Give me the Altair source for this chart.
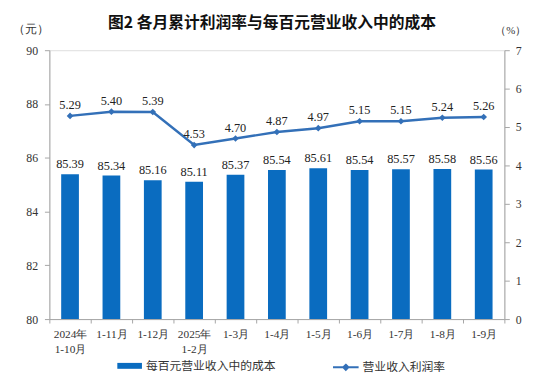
import altair as alt
import pandas as pd

categories = ["2024年\n1-10月", "1-11月", "1-12月", "2025年\n1-2月", "1-3月", "1-4月",
              "1-5月", "1-6月", "1-7月", "1-8月", "1-9月"]
cost = [85.39, 85.34, 85.16, 85.11, 85.37, 85.54, 85.61, 85.54, 85.57, 85.58, 85.56]
margin = [5.29, 5.40, 5.39, 4.53, 4.70, 4.87, 4.97, 5.15, 5.15, 5.24, 5.26]

df = pd.DataFrame({
    "cat": categories,
    "cost": cost,
    "margin": margin,
    "s1": "每百元营业收入中的成本",
    "s2": "营业收入利润率",
})

NUM_FONT = "'Liberation Serif', 'Times New Roman', serif"
CJK_FONT = "Noto Sans CJK SC"
BAR_C = "#0a6cc0"
LINE_C = "#3370b8"
GRAY = "#a6a6a6"

x = alt.X("cat:N", sort=categories, title=None,
          scale=alt.Scale(paddingInner=0, paddingOuter=0),
          axis=alt.Axis(labelAngle=0, labelExpr="split(datum.label, '\\n')",
                        tickBand="extent", tickSize=4, labelPadding=6,
                        labelFont=NUM_FONT, labelFontSize=11.5, labelColor="#333333",
                        domainColor=GRAY, tickColor=GRAY, labelLineHeight=15))

yl = alt.Scale(domain=[80, 90], zero=False, nice=False)
yr = alt.Scale(domain=[0, 7], nice=False)

left_axis = alt.Axis(values=[80, 82, 84, 86, 88, 90], title="（元）", titleAngle=0,
                     titleX=-19, titleY=-15, titleAlign="center", titleFont=NUM_FONT,
                     titleFontWeight="normal", titleFontSize=12, titleColor="#333333",
                     labelFont=NUM_FONT, labelFontSize=12, labelColor="#333333",
                     tickSize=5, labelPadding=7, domainColor=GRAY, tickColor=GRAY,
                     grid=False)
right_axis = alt.Axis(values=[0, 1, 2, 3, 4, 5, 6, 7], orient="right", title="（%）",
                      titleAngle=0, titleX=6, titleY=-15, titleAlign="center",
                      titleFont=NUM_FONT, titleFontWeight="normal", titleFontSize=11,
                      titleColor="#333333", labelFont=NUM_FONT, labelFontSize=12,
                      labelColor="#333333", tickSize=5, labelPadding=6,
                      domainColor=GRAY, tickColor=GRAY, grid=False)

bars = alt.Chart(df).mark_bar(size=18).encode(
    x=x,
    y=alt.Y("cost:Q", scale=yl, axis=left_axis),
    y2=alt.datum(80),
    color=alt.Color("s1:N", scale=alt.Scale(range=[BAR_C]),
                    legend=alt.Legend(title=None, orient="none", legendX=69, legendY=308,
                                      symbolType="M-1,-0.24L1,-0.24L1,0.24L-1,0.24Z",
                                      symbolSize=625, symbolStrokeWidth=0,
                                      labelFont=CJK_FONT, labelFontSize=12, labelColor="#333333",
                                      labelOffset=4)),
)

bar_text = alt.Chart(df).mark_text(dy=-10, font=NUM_FONT, fontSize=12.5, color="#222222").encode(
    x=alt.X("cat:N", sort=categories),
    y=alt.Y("cost:Q", scale=yl, axis=left_axis),
    text=alt.Text("cost:Q", format=".2f"),
)

left = alt.layer(bars, bar_text)

line = alt.Chart(df).mark_line(strokeWidth=2.5).encode(
    x=alt.X("cat:N", sort=categories),
    y=alt.Y("margin:Q", scale=yr, axis=right_axis),
    stroke=alt.Stroke("s2:N", scale=alt.Scale(range=[LINE_C]),
                      legend=alt.Legend(title=None, orient="none", legendX=287, legendY=308,
                                        symbolType="M-1,0L1,0M0,-0.2L0.2,0L0,0.2L-0.2,0Z",
                                        symbolSize=676, symbolStrokeWidth=2,
                                        symbolFillColor=LINE_C,
                                        labelFont=CJK_FONT, labelFontSize=12, labelColor="#333333",
                                        labelOffset=3)),
)

pts = alt.Chart(df).mark_point(shape="diamond", filled=True, size=45, color=LINE_C, opacity=1).encode(
    x=alt.X("cat:N", sort=categories),
    y=alt.Y("margin:Q", scale=yr, axis=right_axis),
)

line_text = alt.Chart(df).mark_text(dy=-11, font=NUM_FONT, fontSize=12.5, color="#222222").encode(
    x=alt.X("cat:N", sort=categories),
    y=alt.Y("margin:Q", scale=yr, axis=right_axis),
    text=alt.Text("margin:Q", format=".2f"),
)

right = alt.layer(line, pts, line_text)

chart = alt.layer(left, right).resolve_scale(y="independent").properties(
    width=462, height=273,
    autosize=alt.AutoSizeParams(type="none"),
    padding={"left": 42, "top": 40, "right": 25, "bottom": 58},
    title=alt.TitleParams("图2 各月累计利润率与每百元营业收入中的成本", font=CJK_FONT,
                          fontSize=16, fontWeight="bold", color="#111111", offset=-8,
                          anchor="middle", dx=-5),
).configure_view(stroke=GRAY).configure(background="white")

chart.save("out.html", embed_options={"renderer": "svg", "actions": False})
